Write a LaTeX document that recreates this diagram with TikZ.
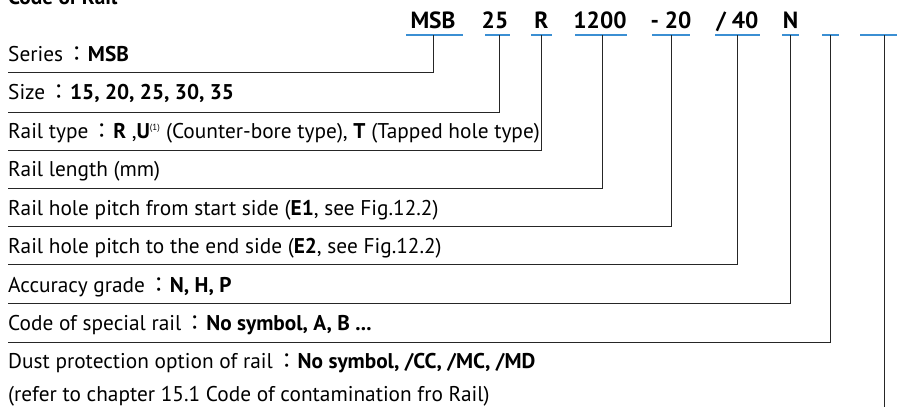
\documentclass[tikz,border=0pt]{standalone}
\usepackage{fontspec}
\setmainfont{PT Sans}
\newfontfamily\cjk{Noto Sans CJK TC}
\definecolor{ublue}{HTML}{3B8FD3}
\begin{document}
\begin{tikzpicture}[x=1bp,y=-1bp,
  lab/.style={anchor=base west,inner sep=0pt,font=\fontsize{21.4}{24}\selectfont},
  code/.style={anchor=base,inner sep=0pt,font=\fontsize{23.5}{26}\selectfont\bfseries},
  uline/.style={draw=ublue,line width=2.2bp},
  conn/.style={draw=black!85,line width=1bp}]
\useasboundingbox (0,0) rectangle (897,407);
% title (cut at the top)
\node[lab,font=\fontsize{21.4}{24}\selectfont\bfseries] (title) at (8,4) {Code of Rail};
% codes
\node[code] (c1) at (433,28) {MSB};
\node[code] (c2) at (495,28) {25};
\node[code] (c3) at (541.5,28) {R};
\node[code] (c4) at (600,28) {1200};
\node[code] (c5) at (671,28) {- 20};
\node[code] (c6) at (737.5,28) {/ 40};
\node[code] (c7) at (790.5,28) {N};
% underlines
\draw[uline] (406,35) -- (463,35);
\draw[uline] (485,35) -- (510,35);
\draw[uline] (531,35) -- (552,35);
\draw[uline] (575,35) -- (627,35);
\draw[uline] (652,35) -- (690,35);
\draw[uline] (715,35) -- (760,35);
\draw[uline] (782,35) -- (799,35);
\draw[uline] (822,35) -- (839,35);
\draw[uline] (860,35) -- (897,35);
% connector start points under the codes
\coordinate (u1) at (433,35);
\coordinate (u2) at (499,35);
\coordinate (u3) at (541,35);
\coordinate (u4) at (602.5,35);
\coordinate (u5) at (671,35);
\coordinate (u6) at (737,35);
\coordinate (u7) at (790,35);
\coordinate (u8) at (830,35);
\coordinate (u9) at (884,35);
% left ends of the rules
\coordinate (s1) at (8,72);
\coordinate (s2) at (8,112.5);
\coordinate (s3) at (8,150);
\coordinate (s4) at (8,188);
\coordinate (s5) at (8,226.5);
\coordinate (s6) at (8,264.5);
\coordinate (s7) at (8,303);
\coordinate (s8) at (8,342.5);
\coordinate (s9) at (884,407);
% labels
\node[lab] (t1) at (8,61) {Series\,{\cjk ：}\textbf{MSB}};
\node[lab] (t2) at (8,99) {Size\,{\cjk ：}\textbf{15, 20, 25, 30, 35}};
\node[lab] (t3) at (8,138) {Rail type\,{\cjk ：}\textbf{R} ,\textbf{U}\textsuperscript{\fontsize{9}{10}\selectfont(1)} (Counter-bore type), \textbf{T} (Tapped hole type)};
\node[lab] (t4) at (8,176) {Rail length (mm)};
\node[lab] (t5) at (8,215) {Rail hole pitch from start side (\textbf{E1}, see Fig.12.2)};
\node[lab] (t6) at (8,253) {Rail hole pitch to the end side (\textbf{E2}, see Fig.12.2)};
\node[lab] (t7) at (8,292) {Accuracy grade\,{\cjk ：}\textbf{N, H, P}};
\node[lab] (t8) at (8,330) {Code of special rail\,{\cjk ：}\textbf{No symbol, A, B ...}};
\node[lab] (t9) at (8,368) {Dust protection option of rail\,{\cjk ：}\textbf{No symbol, /CC, /MC, /MD}};
\node[lab] (t10) at (8,401) {(refer to chapter 15.1 Code of contamination fro Rail)};
% connectors
\draw[conn] (u1) |- (s1);
\draw[conn] (u2) |- (s2);
\draw[conn] (u3) |- (s3);
\draw[conn] (u4) |- (s4);
\draw[conn] (u5) |- (s5);
\draw[conn] (u6) |- (s6);
\draw[conn] (u7) |- (s7);
\draw[conn] (u8) |- (s8);
\draw[conn] (u9) -- (s9);
\end{tikzpicture}
\end{document}
